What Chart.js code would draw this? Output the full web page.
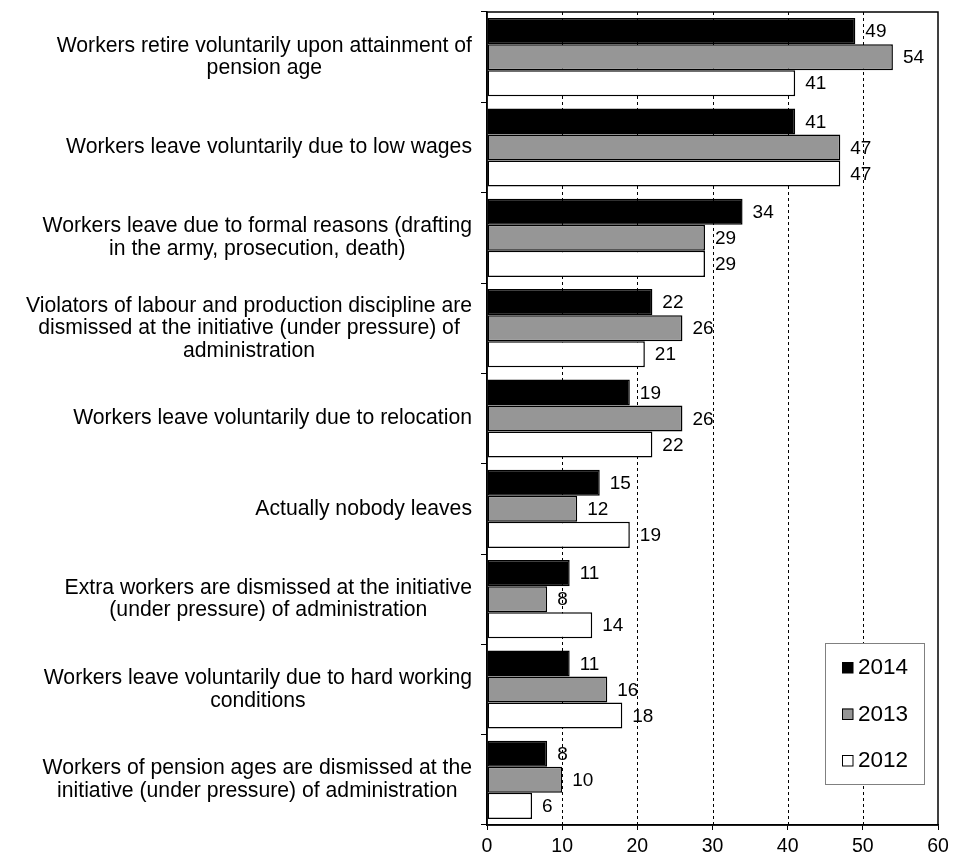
<!DOCTYPE html>
<html>
<head>
<meta charset="utf-8">
<script src="https://cdn.jsdelivr.net/npm/chart.js@4.4.1/dist/chart.umd.min.js"></script>
<style>
  html, body { margin: 0; padding: 0; background: #fff; }
  #wrap { width: 954px; height: 860px; }
</style>
</head>
<body>
<div id="wrap"><canvas id="c" width="954" height="860"></canvas></div>
<script>
// Reasons why workers leave enterprises, share of respondents (%)
const categories = [
  ["Workers retire voluntarily upon attainment of", "pension age"],
  ["Workers leave voluntarily due to low wages"],
  ["Workers leave due to formal reasons (drafting", "in the army, prosecution, death)"],
  ["Violators of labour and production discipline are", "dismissed at the initiative (under pressure) of", "administration"],
  ["Workers leave voluntarily due to relocation"],
  ["Actually nobody leaves"],
  ["Extra workers are dismissed at the initiative", "(under pressure) of administration"],
  ["Workers leave voluntarily due to hard working", "conditions"],
  ["Workers of pension ages are dismissed at the", "initiative (under pressure) of administration"]
];
const years = ["2014", "2013", "2012"];
const values2014 = [49, 41, 34, 22, 19, 15, 11, 11, 8];
const values2013 = [54, 47, 29, 26, 26, 12, 8, 16, 10];
const values2012 = [41, 47, 29, 21, 22, 19, 14, 18, 6];
const xTicks = [0, 10, 20, 30, 40, 50, 60];

const FONT = "'Liberation Sans', Arial, sans-serif";
Chart.defaults.font.family = FONT;
Chart.defaults.color = '#000';

const fills = ['#000000', '#969696', '#ffffff'];

// Dashed vertical gridlines behind the bars
const gridPlugin = {
  id: 'dashedGrid',
  beforeDatasetsDraw(chart) {
    const { ctx, chartArea: a, scales: { x } } = chart;
    ctx.save();
    ctx.strokeStyle = '#000';
    ctx.lineWidth = 1;
    ctx.setLineDash([3, 3]);
    xTicks.slice(1, -1).forEach(v => {
      const px = Math.round(x.getPixelForValue(v)) + 0.5;
      ctx.beginPath();
      ctx.moveTo(px, a.top);
      ctx.lineTo(px, a.bottom);
      ctx.stroke();
    });
    ctx.restore();
  }
};

// Frame, category labels, value labels and legend
const overlayPlugin = {
  id: 'overlay',
  afterDatasetsDraw(chart) {
    const { ctx, chartArea: a, scales: { y } } = chart;
    ctx.save();

    // plot frame
    ctx.strokeStyle = '#000';
    ctx.lineWidth = 1.5;
    ctx.strokeRect(a.left, a.top, a.right - a.left, a.bottom - a.top);

    // value labels at the end of each bar
    ctx.font = '19px ' + FONT;
    ctx.fillStyle = '#000';
    ctx.textBaseline = 'middle';
    ctx.textAlign = 'left';
    chart.data.datasets.forEach((ds, di) => {
      chart.getDatasetMeta(di).data.forEach((bar, i) => {
        ctx.fillText(String(ds.data[i]), bar.x + 10, bar.y + 1);
      });
    });

    // category labels: block right-aligned to the axis, lines centred in the block
    ctx.font = '21.2px ' + FONT;
    ctx.textAlign = 'center';
    const lh = 22.5;
    const rightEdge = a.left - 15;
    categories.forEach((lines, i) => {
      const cy = y.getPixelForValue(i);
      const w = Math.max(...lines.map(l => ctx.measureText(l).width));
      const cx = rightEdge - w / 2;
      lines.forEach((l, k) => {
        ctx.fillText(l, cx, cy + (k - (lines.length - 1) / 2) * lh);
      });
    });

    // legend box
    const bw = 99, bh = 141;
    const bx = a.right - 14 - bw;
    const by = a.bottom - 41 - bh;
    ctx.fillStyle = '#fff';
    ctx.fillRect(bx, by, bw, bh);
    ctx.strokeStyle = '#808080';
    ctx.lineWidth = 1;
    ctx.strokeRect(bx + 0.5, by + 0.5, bw, bh);
    ctx.font = '22.5px ' + FONT;
    ctx.textAlign = 'left';
    chart.data.datasets.forEach((ds, di) => {
      const ry = by + 24 + di * 46.5;
      ctx.fillStyle = ds.backgroundColor;
      ctx.fillRect(bx + 17, ry - 5, 11, 11);
      ctx.strokeStyle = '#000';
      ctx.lineWidth = 1;
      ctx.strokeRect(bx + 17.5, ry - 4.5, 10.5, 10.5);
      ctx.fillStyle = '#000';
      ctx.fillText(ds.label, bx + 33, ry + 1);
    });

    ctx.restore();
  }
};

new Chart(document.getElementById('c'), {
  type: 'bar',
  data: {
    labels: categories,
    datasets: [
      { label: years[0], data: values2014, backgroundColor: fills[0] },
      { label: years[1], data: values2013, backgroundColor: fills[1] },
      { label: years[2], data: values2012, backgroundColor: fills[2] }
    ].map(d => Object.assign(d, {
      borderColor: '#000',
      borderWidth: 1.5,
      borderSkipped: false,
      barPercentage: 1,
      categoryPercentage: 0.865
    }))
  },
  options: {
    indexAxis: 'y',
    responsive: false,
    animation: false,
    layout: { padding: { left: 0, top: 12, right: 16, bottom: 0 } },
    plugins: { legend: { display: false }, tooltip: { enabled: false } },
    scales: {
      x: {
        min: 0, max: 60,
        ticks: { stepSize: 10, font: { size: 19.5 }, color: '#000', padding: 5 },
        grid: { drawOnChartArea: false, drawTicks: true, tickLength: 5, color: '#000', lineWidth: 1 },
        border: { display: true, color: '#000', width: 1.5 },
        afterFit(s) { s.height = 35; }
      },
      y: {
        ticks: { display: false },
        grid: { offset: true, drawOnChartArea: false, drawTicks: true, tickLength: 6, color: '#000', lineWidth: 1 },
        border: { display: true, color: '#000', width: 1.5 },
        afterFit(s) { s.width = 487; }
      }
    }
  },
  plugins: [gridPlugin, overlayPlugin]
});
</script>
</body>
</html>
